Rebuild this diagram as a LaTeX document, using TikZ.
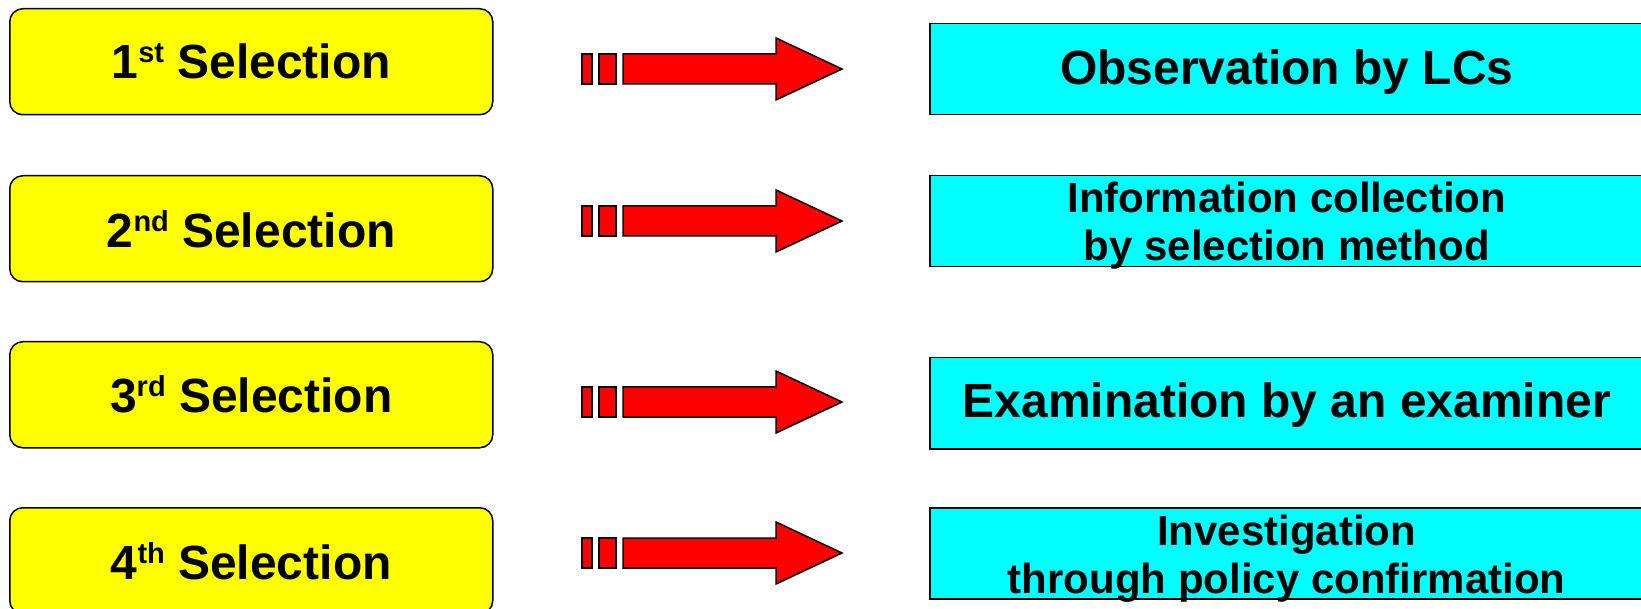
\documentclass[tikz,border=0pt]{standalone}
\usepackage{fontspec}
\setmainfont{Liberation Sans}
\definecolor{selyellow}{RGB}{255,255,0}
\definecolor{actcyan}{RGB}{0,255,255}
\definecolor{arrred}{RGB}{255,0,0}
\newcommand\ordsup[1]{\raisebox{16pt}{\fontsize{29}{29}\selectfont #1}}
\begin{document}
\begin{tikzpicture}[x=1pt,y=-1pt,
  selbox/.style={draw=black, line width=1.5pt, fill=selyellow, rounded corners=13pt,
    minimum width=483pt, minimum height=106pt, inner sep=0pt, anchor=north west,
    font=\fontsize{48}{48}\selectfont\bfseries},
  actbox/.style={draw=black, line width=1.5pt, fill=actcyan,
    minimum width=714pt, minimum height=91pt, inner sep=0pt, anchor=north west,
    align=center, font=\fontsize{48}{48}\selectfont\bfseries},
  acttext/.style={font=\fontsize{48}{48}\selectfont\bfseries, align=center, inner sep=0pt},
  acttexttwo/.style={font=\fontsize{42}{48}\selectfont\bfseries, align=center, inner sep=0pt},
  arrowpart/.style={draw=black, line width=1.5pt, fill=arrred, line join=miter},
  pics/blockarrow/.style={code={
    \draw[arrowpart] (0,-15) rectangle (10,15);
    \draw[arrowpart] (17,-15) rectangle (34,15);
    \draw[arrowpart] (41,-15) -- (194,-15) -- (194,-31) -- (260,0) -- (194,31)
      -- (194,15) -- (41,15) -- cycle;
  }}
]
\useasboundingbox (0,0) rectangle (1641,609);

\node[selbox] (s1) at (9,8)   {1\ordsup{st} Selection};
\node[selbox] (s2) at (9,175) {2\ordsup{nd} Selection};
\node[selbox] (s3) at (9,341) {3\ordsup{rd} Selection};
\node[selbox] (s4) at (9,507) {4\ordsup{th} Selection};

\node[actbox] (a1) at (929,23)  {};
\node[actbox] (a2) at (929,175) {};
\node[actbox] (a3) at (929,357) {};
\node[actbox] (a4) at (929,507) {};

\node[acttext]    (l1) at ([yshift=-3pt]a1.center) {Observation by LCs};
\node[acttexttwo] (l2) at ([yshift=-4pt]a2.center) {Information collection\\by selection method};
\node[acttext]    (l3) at ([yshift=-2pt]a3.center) {Examination by an examiner};
\node[acttexttwo] (l4) at ([yshift=-5pt]a4.center) {Investigation\\through policy confirmation};

\pic at (582,69)  {blockarrow};
\pic at (582,221) {blockarrow};
\pic at (582,402) {blockarrow};
\pic at (582,553) {blockarrow};
\end{tikzpicture}
\end{document}
